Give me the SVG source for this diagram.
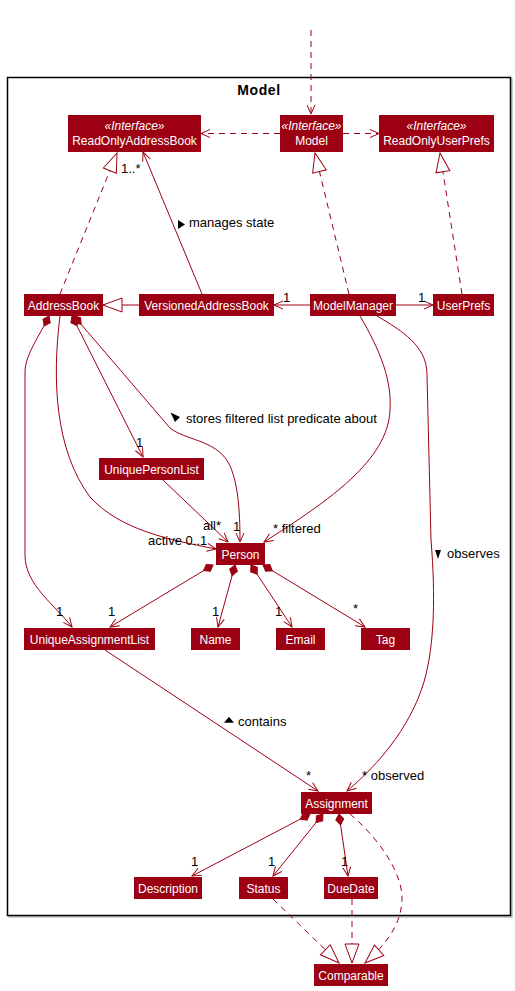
<svg xmlns="http://www.w3.org/2000/svg" width="515" height="991" viewBox="0 0 515 991">
<style>
.box{fill:#9D0012;}
.nm{font-family:"Liberation Sans",Arial,sans-serif;font-size:12px;fill:#FFFFFF;text-anchor:middle;}
.st{font-family:"Liberation Sans",Arial,sans-serif;font-size:12px;font-style:italic;fill:#FFFFFF;text-anchor:middle;}
.lb{font-family:"Liberation Sans",Arial,sans-serif;font-size:13px;fill:#000000;}
.ln{fill:none;stroke:#9D0012;stroke-width:1;}
.ds{stroke-dasharray:6,5;}
.ic{fill:#000000;}
</style>
<defs>
<marker id="arr" markerWidth="12" markerHeight="10" refX="9" refY="4" orient="auto" markerUnits="userSpaceOnUse" overflow="visible">
<path d="M0,0 L9,4 L0,8" fill="none" stroke="#9D0012" stroke-width="1"/>
</marker>
<marker id="tri" markerWidth="22" markerHeight="16" refX="19" refY="7" orient="auto" markerUnits="userSpaceOnUse" overflow="visible">
<path d="M19,7 L0,0 L0,14 Z" fill="#FFFFFF" stroke="#9D0012" stroke-width="1"/>
</marker>
<marker id="dia" markerWidth="14" markerHeight="10" refX="0" refY="4" orient="auto" markerUnits="userSpaceOnUse" overflow="visible">
<path d="M0,4 L5.5,0 L11,4 L5.5,8 Z" fill="#9D0012" stroke="#9D0012" stroke-width="1"/>
</marker>
</defs>
<rect x="0" y="0" width="515" height="991" fill="#FFFFFF"/>
<g id="package-Model">
<rect x="9" y="79" width="503" height="838" fill="none" stroke="#BBBBBB" stroke-width="1.5"/>
<rect x="7.5" y="77.5" width="503" height="838" fill="#FFFFFF" stroke="#000000" stroke-width="1.5"/>
<text x="259" y="95" font-family="Liberation Sans,Arial,sans-serif" font-size="14" font-weight="bold" letter-spacing="0.6" text-anchor="middle">Model</text>
</g>
<g id="connectors">
<line class="ln ds" x1="311" y1="30" x2="311" y2="114" marker-end="url(#arr)"/>
<line class="ln ds" x1="280" y1="133.5" x2="201" y2="133.5" marker-end="url(#arr)"/>
<line class="ln ds" x1="343" y1="133.5" x2="379" y2="133.5" marker-end="url(#arr)"/>
<line class="ln ds" x1="60" y1="294" x2="117" y2="153" marker-end="url(#tri)"/>
<line class="ln" x1="139" y1="305" x2="103" y2="305" marker-end="url(#tri)"/>
<line class="ln" x1="202" y1="294" x2="143" y2="152" marker-end="url(#arr)"/>
<line class="ln ds" x1="349" y1="294" x2="315" y2="153" marker-end="url(#tri)"/>
<line class="ln ds" x1="462" y1="294" x2="440" y2="153" marker-end="url(#tri)"/>
<line class="ln" x1="310" y1="305" x2="274" y2="305" marker-end="url(#arr)"/>
<line class="ln" x1="396" y1="305" x2="433" y2="305" marker-end="url(#arr)"/>
<path class="ln" d="M49,316 C40,335 25,355 25,372 L25,555 C25,585 55,605 72,627" marker-start="url(#dia)" marker-end="url(#arr)"/>
<path class="ln" d="M60,316 C52,380 55,450 90,497 C120,530 170,540 216,549" marker-end="url(#arr)"/>
<line class="ln" x1="72" y1="316" x2="143" y2="457" marker-start="url(#dia)" marker-end="url(#arr)"/>
<path class="ln" d="M74,316 L170,428 C185,440 215,440 228,462 C238,480 240,510 240,542" marker-start="url(#dia)" marker-end="url(#arr)"/>
<line class="ln" x1="163" y1="480" x2="228" y2="542" marker-end="url(#arr)"/>
<path class="ln" d="M360,316 C380,350 392,380 390,410 C388,460 330,500 264,542" marker-end="url(#arr)"/>
<path class="ln" d="M377,316 C410,335 427,350 427,375 L431,540 C436,600 433,640 428,665 C420,710 390,755 347,791" marker-end="url(#arr)"/>
<line class="ln" x1="213" y1="565" x2="110" y2="627" marker-start="url(#dia)" marker-end="url(#arr)"/>
<line class="ln" x1="235" y1="565" x2="218" y2="627" marker-start="url(#dia)" marker-end="url(#arr)"/>
<line class="ln" x1="251" y1="565" x2="292" y2="627" marker-start="url(#dia)" marker-end="url(#arr)"/>
<line class="ln" x1="263" y1="565" x2="365" y2="627" marker-start="url(#dia)" marker-end="url(#arr)"/>
<line class="ln" x1="105" y1="650" x2="318" y2="791" marker-end="url(#arr)"/>
<line class="ln" x1="310" y1="814" x2="192" y2="876" marker-start="url(#dia)" marker-end="url(#arr)"/>
<line class="ln" x1="323" y1="814" x2="273" y2="876" marker-start="url(#dia)" marker-end="url(#arr)"/>
<line class="ln" x1="339" y1="814" x2="348" y2="876" marker-start="url(#dia)" marker-end="url(#arr)"/>
<line class="ln ds" x1="273" y1="899" x2="339" y2="963" marker-end="url(#tri)"/>
<line class="ln ds" x1="352" y1="899" x2="352" y2="963" marker-end="url(#tri)"/>
<path class="ln ds" d="M350,814 C375,835 402,870 402,898 C402,925 385,945 365,963" marker-end="url(#tri)"/>
<text class="lb" x="121" y="173">1..*</text>
<polygon class="ic" points="178,220 185,224.5 178,229"/>
<text class="lb" x="189" y="227">manages state</text>
<text class="lb" x="283" y="302">1</text>
<text class="lb" x="418" y="302">1</text>
<text class="lb" x="56" y="616">1</text>
<text class="lb" x="148" y="545">active 0..1</text>
<text class="lb" x="136" y="447">1</text>
<polygon class="ic" points="170.5,412.5 180,417 175,422"/>
<text class="lb" x="186" y="423">stores filtered list predicate about</text>
<text class="lb" x="203" y="530">all*</text>
<text class="lb" x="233" y="531">1</text>
<text class="lb" x="273" y="533">* filtered</text>
<polygon class="ic" points="435,550 441,550 438,559"/>
<text class="lb" x="447" y="558">observes</text>
<text class="lb" x="362" y="780">* observed</text>
<text class="lb" x="108" y="616">1</text>
<text class="lb" x="212" y="616">1</text>
<text class="lb" x="275" y="616">1</text>
<text class="lb" x="353" y="613">*</text>
<polygon class="ic" points="224,722.7 229,716.7 234,722.7"/>
<text class="lb" x="238" y="726">contains</text>
<text class="lb" x="306" y="780">*</text>
<text class="lb" x="191" y="866">1</text>
<text class="lb" x="268" y="866">1</text>
<text class="lb" x="341" y="866">1</text>
</g>
<g id="ReadOnlyAddressBook"><rect class="box" x="68" y="115" width="133" height="37"/><text class="st" x="134.5" y="130">«Interface»</text><text class="nm" x="134.5" y="145">ReadOnlyAddressBook</text></g>
<g id="Model"><rect class="box" x="280" y="115" width="63" height="37"/><text class="st" x="311.5" y="130">«Interface»</text><text class="nm" x="311.5" y="145">Model</text></g>
<g id="ReadOnlyUserPrefs"><rect class="box" x="379" y="115" width="115" height="37"/><text class="st" x="436.5" y="130">«Interface»</text><text class="nm" x="436.5" y="145">ReadOnlyUserPrefs</text></g>
<g id="AddressBook"><rect class="box" x="24" y="294" width="79" height="22"/><text class="nm" x="63.5" y="309.5">AddressBook</text></g>
<g id="VersionedAddressBook"><rect class="box" x="139" y="294" width="135" height="22"/><text class="nm" x="206.5" y="309.5">VersionedAddressBook</text></g>
<g id="ModelManager"><rect class="box" x="310" y="294" width="86" height="22"/><text class="nm" x="353" y="309.5">ModelManager</text></g>
<g id="UserPrefs"><rect class="box" x="433" y="294" width="61" height="22"/><text class="nm" x="463.5" y="309.5">UserPrefs</text></g>
<g id="UniquePersonList"><rect class="box" x="99" y="458" width="105" height="22"/><text class="nm" x="151.5" y="473.5">UniquePersonList</text></g>
<g id="Person"><rect class="box" x="216" y="543" width="49" height="22"/><text class="nm" x="240.5" y="558.5">Person</text></g>
<g id="UniqueAssignmentList"><rect class="box" x="24" y="628" width="131" height="22"/><text class="nm" x="89.5" y="643.5">UniqueAssignmentList</text></g>
<g id="Name"><rect class="box" x="191" y="628" width="49" height="22"/><text class="nm" x="215.5" y="643.5">Name</text></g>
<g id="Email"><rect class="box" x="276" y="628" width="49" height="22"/><text class="nm" x="300.5" y="643.5">Email</text></g>
<g id="Tag"><rect class="box" x="361" y="628" width="49" height="22"/><text class="nm" x="385.5" y="643.5">Tag</text></g>
<g id="Assignment"><rect class="box" x="301" y="792" width="71" height="22"/><text class="nm" x="336.5" y="807.5">Assignment</text></g>
<g id="Description"><rect class="box" x="134" y="877" width="68" height="22"/><text class="nm" x="168" y="892.5">Description</text></g>
<g id="Status"><rect class="box" x="239" y="877" width="49" height="22"/><text class="nm" x="263.5" y="892.5">Status</text></g>
<g id="DueDate"><rect class="box" x="324" y="877" width="54" height="22"/><text class="nm" x="351" y="892.5">DueDate</text></g>
<g id="Comparable"><rect class="box" x="314" y="964" width="74" height="22"/><text class="nm" x="351" y="979.5">Comparable</text></g>
</svg>
